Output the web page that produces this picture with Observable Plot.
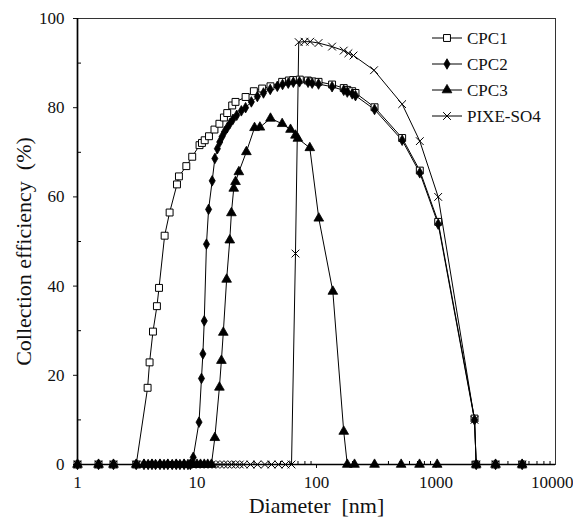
<!DOCTYPE html>
<html><head><meta charset="utf-8">
<script src="https://cdn.jsdelivr.net/npm/d3@7"></script>
<script src="https://cdn.jsdelivr.net/npm/@observablehq/plot@0.6"></script>
<style>
body{margin:0;background:#fff;}
#wrap{position:relative;width:573px;height:522px;}
#legend{position:absolute;left:0;top:0;pointer-events:none;}
</style></head><body><div id="wrap"></div>
<script>
// ---- data (diameter nm, collection efficiency %) ----
const cpc1D = [1, 1.5, 2, 3.1, 3.86, 4.01, 4.28, 4.62, 4.81, 5.36, 5.9, 6.8, 7.06, 8.14, 9.12, 10.5, 11.0, 11.6, 12.6, 14.0, 15.4, 16.8, 17.9, 19.7, 21.0, 25.5, 29.9, 35.1, 41.2, 51.6, 58.7, 63.8, 72.5, 84.6, 92, 104, 135, 169, 181, 199, 212, 306, 521, 732, 1043, 2100, 2170, 3150, 5260];
const cpc1V = [0, 0, 0, 0, 17.2, 22.9, 29.8, 35.5, 39.6, 51.3, 56.5, 62.8, 64.6, 66.9, 69.0, 71.6, 72.1, 72.7, 73.6, 75.1, 76.4, 77.8, 78.8, 80.5, 81.3, 82.4, 83.7, 84.3, 84.8, 85.8, 86.1, 86.2, 86.3, 86.1, 85.9, 85.8, 85.2, 84.4, 84.0, 83.7, 83.3, 80.1, 73.2, 65.9, 54.4, 10.3, 0, 0, 0];

const cpc2D = [1, 1.5, 2, 3.1, 3.6, 3.9, 4.2, 4.5, 4.9, 5.3, 5.7, 6.2, 6.7, 7.2, 7.8, 8.4, 8.8, 9.3, 10.4, 10.9, 11.2, 11.5, 12.0, 12.5, 13.4, 14.1, 14.8, 15.5, 16.2, 17.0, 17.9, 18.9, 20.0, 21.5, 23.5, 25.5, 28.5, 32, 36, 41, 47, 52, 58, 64, 72, 85, 92, 104, 135, 169, 181, 199, 212, 306, 521, 732, 1043, 2100, 2170, 3150, 5260];
const cpc2V = [0, 0, 0, 0, 0, 0, 0, 0, 0, 0, 0, 0, 0, 0, 0, 0, 0, 1.6, 9.5, 19.3, 24.8, 32.2, 49.4, 57.2, 63.6, 68.6, 70.8, 72.3, 73.5, 74.6, 75.5, 76.5, 77.4, 78.3, 79.3, 80.0, 81.3, 82.5, 83.3, 84.1, 84.8, 85.2, 85.5, 85.7, 85.8, 85.7, 85.5, 85.3, 84.7, 83.9, 83.5, 83.1, 82.7, 79.6, 72.7, 65.4, 53.9, 10.0, 0, 0, 0];

const cpc3D = [1, 1.5, 2, 3.1, 3.6, 4.2, 4.9, 5.7, 6.7, 7.8, 8.8, 9.3, 10.0, 10.7, 11.5, 12.3, 13.2, 14.1, 15.4, 16.0, 16.6, 17.7, 18.8, 19.4, 20.3, 21.0, 22.4, 25.9, 30.3, 33.6, 41.2, 51.6, 60.6, 66.7, 69.8, 87.9, 104.5, 137, 169, 181, 208, 306, 511, 728, 1023, 2170, 3150, 5260];
const cpc3V = [0, 0, 0, 0, 0, 0, 0, 0, 0, 0, 0, 0, 0, 0, 0, 0, 0, 6.0, 17.3, 23.3, 29.6, 41.5, 50.3, 56.4, 61.9, 63.4, 65.6, 70.1, 75.5, 75.6, 77.6, 76.4, 75.1, 73.8, 73.1, 71.0, 55.2, 38.8, 7.4, 0, 0, 0, 0, 0, 0, 0, 0, 0];

const pixeD = [1, 1.5, 2, 3.1, 3.6, 3.9, 4.2, 4.5, 4.9, 5.3, 5.7, 6.2, 6.7, 7.2, 7.8, 8.4, 9.1, 9.8, 10.6, 11.5, 12.4, 13.3, 14.4, 15.6, 16.8, 18.1, 19.5, 21.1, 22.8, 24.6, 28, 32, 37, 42, 48, 55, 61.8, 66.7, 71, 79.4, 88.6, 104, 135, 169, 185, 204, 303, 521, 732, 1043, 2100, 2170, 3150, 5260];
const pixeV = [0, 0, 0, 0, 0, 0, 0, 0, 0, 0, 0, 0, 0, 0, 0, 0, 0, 0, 0, 0, 0, 0, 0, 0, 0, 0, 0, 0, 0, 0, 0, 0, 0, 0, 0, 0, 0, 47.3, 94.7, 94.8, 94.8, 94.5, 93.7, 92.8, 92.2, 91.7, 88.4, 80.8, 72.5, 60.0, 10.0, 0, 0, 0];

const seriesNames = ["CPC1", "CPC2", "CPC3", "PIXE-SO4"];
const xTickLabels = [1, 10, 100, 1000];
const xLastTickLabel = [10000];
const yTickLabels = [0, 20, 40, 60, 80, 100];
const yMinorTicks = [10, 30, 50, 70, 90];

// ---- build tables ----
const series = [
  {name: seriesNames[0], d: cpc1D, v: cpc1V, symbol: "square", fill: "white", r: 3.9, sw: 1},
  {name: seriesNames[1], d: cpc2D, v: cpc2V, symbol: "diamond", fill: "black", r: 3.2, sw: 0.8},
  {name: seriesNames[2], d: cpc3D, v: cpc3V, symbol: "triangle", fill: "black", r: 3.6, sw: 0.8},
  {name: seriesNames[3], d: pixeD, v: pixeV, symbol: "times", fill: "none", r: 3.6, sw: 1}
];
const tables = series.map(s => s.d.map((d, i) => ({d, v: s.v[i]})));
const xMinorTicks = [];
for (let k = 0; k < 4; k++) for (let m = 2; m <= 9; m++) xMinorTicks.push(m * Math.pow(10, k));

const W = 573, H = 522, mL = 77, mR = 18, mT = 18, mB = 58;
const pw = W - mL - mR, ph = H - mT - mB;
const FONT = "'Liberation Serif', 'Times New Roman', serif";

const chart = Plot.plot({
  width: W, height: H,
  marginLeft: mL, marginRight: mR, marginTop: mT, marginBottom: mB,
  style: {fontFamily: FONT, fontSize: "17px", color: "#111", background: "white"},
  x: {type: "log", domain: [1, 10000]},
  y: {domain: [0, 100]},
  marks: [
    Plot.frame({stroke: "#333", strokeWidth: 1}),
    Plot.axisX(xTickLabels, {tickSize: 4, tickPadding: 7, tickFormat: d => String(d), label: null, fontSize: 17}),
    Plot.axisX(xLastTickLabel, {tickSize: 4, tickPadding: 7, tickFormat: d => String(d), label: null, fontSize: 17, textAnchor: "end", dx: 18}),
    Plot.axisY(yTickLabels, {tickSize: 4, tickPadding: 9, tickFormat: d => String(d), label: null, fontSize: 17}),
    Plot.tickX(xMinorTicks, {x: d => d, insetTop: ph - 3, stroke: "#000"}),
    Plot.tickY(yMinorTicks, {y: d => d, insetRight: pw - 4, stroke: "#000"}),
    Plot.ruleX([1], {stroke: "#000", strokeWidth: 1.7}),
    Plot.ruleY([0], {stroke: "#000", strokeWidth: 1.7}),
    ...tables.map(t => Plot.line(t, {x: "d", y: "v", stroke: "#000", strokeWidth: 1})),
    ...series.map((s, i) => Plot.dot(tables[i], {x: "d", y: "v", symbol: s.symbol, r: s.r, fill: s.fill, stroke: "#000", strokeWidth: s.sw})),
    Plot.text(["Diameter\u00a0\u00a0[nm]"], {frameAnchor: "bottom", dy: 48, fontSize: 22, fill: "#111"}),
    Plot.text(["Collection efficiency\u00a0\u00a0(%)"], {frameAnchor: "left", textAnchor: "middle", dx: -54, dy: 10, rotate: -90, fontSize: 22, fill: "#111"})
  ]
});
document.getElementById("wrap").appendChild(chart);

// ---- legend (inside top-right) ----
const lg = d3.select("#wrap").append("svg").attr("id", "legend").attr("width", W).attr("height", H);
const legY = [38, 64, 90, 116];
series.forEach((s, i) => {
  const g = lg.append("g").attr("transform", `translate(432,${legY[i]})`);
  g.append("line").attr("x1", 0).attr("x2", 30).attr("y1", 0).attr("y2", 0).attr("stroke", "#000");
  const sym = {square: d3.symbolSquare, diamond: d3.symbolDiamond, triangle: d3.symbolTriangle, times: d3.symbolTimes}[s.symbol];
  g.append("path").attr("transform", "translate(15,0)")
    .attr("d", d3.symbol(sym, Math.PI * s.r * s.r)())
    .attr("fill", s.fill).attr("stroke", "#000").attr("stroke-width", s.sw);
  g.append("text").attr("x", 35).attr("y", 6).attr("font-family", FONT).attr("font-size", 17)
    .attr("fill", "#111").text(s.name);
});
</script>
</body></html>
